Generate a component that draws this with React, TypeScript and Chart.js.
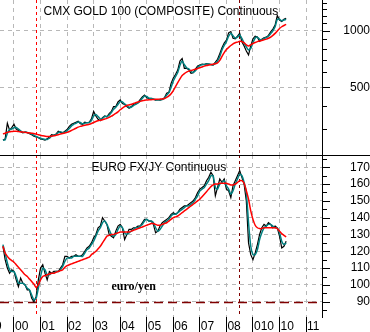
import React, { useEffect, useRef } from 'react';
import { Chart, registerables } from 'chart.js';

Chart.register(...registerables);

// ---- data: monthly samples, first sample = August 1999 ----
const SERIES_START_YEAR = 1999;
const SERIES_START_MONTH = 8;

// CMX GOLD 100 (COMPOSITE) Continuous – price, fast MA (teal), slow MA (red)
const goldPrice = [
  262, 265, 322, 296, 305,
  318, 300, 295, 290, 286, 290, 287, 283, 280, 275, 272, 270,
  266, 264, 262, 266, 272, 280, 278, 282, 292, 288, 286, 292,
  298, 310, 318, 322, 326, 330, 320, 318, 326, 324, 326, 340,
  372, 352, 338, 332, 345, 352, 348, 362, 372, 395, 395, 418,
  428, 410, 405, 395, 387, 395, 405, 410, 415, 430, 445, 455,
  440, 435, 437, 432, 428, 430, 428, 432, 440, 465, 470, 525,
  560, 585, 618, 690, 712, 630, 631, 620, 594, 598, 625, 650,
  657, 665, 660, 668, 665, 660, 657, 680, 705, 755, 812, 860,
  892, 975, 990, 912, 905, 935, 968, 874, 830, 780, 743, 830,
  905, 935, 925, 878, 900, 918, 925, 945, 985, 1020, 1072, 1205,
  1140, 1120, 1150, 1165,
];
const goldFast = [
  262, 263, 285, 298, 300,
  305, 306, 300, 293, 288, 288, 288, 285, 282, 278, 274, 271,
  268, 266, 264, 264, 268, 275, 278, 280, 287, 290, 288, 289,
  294, 302, 312, 318, 322, 327, 325, 320, 322, 324, 325, 333,
  352, 358, 350, 340, 342, 350, 350, 356, 367, 382, 392, 405,
  420, 418, 408, 400, 392, 392, 400, 406, 412, 422, 437, 450,
  447, 438, 436, 434, 430, 430, 429, 431, 437, 455, 468, 500,
  540, 570, 600, 655, 690, 660, 635, 627, 608, 600, 612, 638,
  652, 660, 662, 665, 666, 662, 660, 670, 690, 730, 790, 835,
  875, 935, 970, 940, 915, 925, 950, 910, 860, 820, 790, 805,
  865, 915, 925, 900, 895, 910, 920, 935, 965, 1000, 1050, 1150,
  1150, 1130, 1140, 1150,
];
const goldSlow = [
  283, 285, 288, 290, 291,
  292, 292, 291, 290, 289, 288, 287, 286, 285, 284, 282, 280,
  278, 276, 275, 274, 274, 275, 276, 278, 280, 282, 284, 286,
  288, 291, 295, 299, 303, 307, 310, 312, 314, 316, 318, 321,
  325, 329, 332, 334, 336, 339, 342, 346, 351, 357, 363, 370,
  380, 388, 395, 400, 403, 406, 410, 414, 418, 421, 424, 427,
  428, 429, 430, 431, 432, 432, 433, 434, 436, 442, 450, 462,
  480, 505, 530, 555, 578, 592, 603, 610, 615, 619, 624, 630,
  636, 642, 648, 653, 657, 661, 664, 667, 674, 695, 730, 765,
  795, 815, 835, 852, 863, 870, 878, 876, 862, 842, 830, 840,
  855, 866, 875, 882, 888, 895, 902, 912, 926, 945, 968, 998,
  1028, 1050, 1066, 1082,
];

// EURO FX/JY Continuous – price, fast MA (teal), slow MA (red)
const yenPrice = [
  123, 115, 110, 107, 109,
  108, 103, 99, 104, 101, 100, 97, 97, 92, 90, 93, 103,
  110, 112, 107, 103, 108, 107, 108, 108, 108, 110, 112, 117,
  117, 116, 117, 117, 118, 117, 117, 118, 120, 122, 123, 125,
  128, 130, 134, 135, 140, 138, 136, 130, 129, 128, 132, 135,
  136, 134, 127, 130, 133, 133, 134, 134, 135, 135, 137, 139,
  139, 138, 138, 136, 131, 132, 135, 137, 138, 139, 140, 142,
  143, 142, 143, 145, 146, 147, 147, 148, 149, 150, 152, 155,
  157, 158, 159, 162, 164, 167, 165, 153, 158, 163, 161, 163,
  157, 156, 152, 159, 162, 165, 168, 164, 160, 150, 125, 118,
  115, 119, 124, 130, 134, 136, 135, 137, 136, 134, 135, 134,
  129, 122, 123, 126,
];
const yenFast = [
  124, 119, 113, 109, 108,
  108, 105, 101, 101, 101, 100, 98, 97, 94, 91, 92, 98,
  105, 110, 109, 106, 106, 107, 107, 108, 108, 109, 111, 114,
  116, 116, 116, 117, 117, 117, 117, 117, 119, 121, 122, 124,
  126, 129, 132, 134, 137, 138, 136, 133, 130, 129, 130, 133,
  135, 134, 131, 130, 131, 132, 133, 134, 134, 135, 136, 138,
  139, 138, 138, 137, 134, 132, 133, 135, 137, 138, 139, 141,
  142, 142, 143, 144, 145, 146, 147, 147, 148, 149, 151, 153,
  156, 157, 158, 160, 162, 165, 165, 158, 157, 160, 161, 162,
  159, 157, 154, 156, 160, 163, 166, 165, 161, 155, 137, 123,
  118, 118, 121, 127, 131, 134, 135, 136, 136, 135, 134, 134,
  131, 126, 124, 125,
];
const yenSlow = [
  123, 119, 117, 115.5, 114.5,
  113.5, 112, 110.5, 109, 107.5, 106, 105, 103.5, 102, 100.5, 98.5, 100,
  103, 105, 105.5, 106, 106.5, 107, 107, 107.5, 108, 108.5, 109, 110.5,
  111.5, 112, 112.5, 113, 113.5, 114, 114.5, 115, 115.5, 116, 116.5, 118,
  119, 120, 121.5, 123, 125, 127, 129, 129.5, 130, 130, 130.5, 131,
  131.5, 131.5, 131.5, 131.5, 131.5, 132, 132.5, 133, 133.5, 134, 134.5, 135,
  135.5, 136, 136.5, 136.5, 136, 135.5, 135.5, 136, 136.5, 137, 138, 139,
  140, 140.5, 141, 142, 143, 144, 145, 146, 147, 148, 149, 150,
  151, 152.5, 154, 155.5, 157, 158.5, 159.5, 160, 160, 160.5, 160.5, 160.5,
  160.5, 160, 159.5, 159.5, 160, 161, 162, 162, 160.5, 156, 151, 144,
  139, 135.5, 134, 133.5, 133.5, 134, 134, 134, 134, 134, 134, 133.5,
  132, 130.5, 129.5, 128.5,
];

// axes
const yearTicks = [1999, 2000, 2001, 2002, 2003, 2004, 2005, 2006, 2007, 2008, 2009, 2010, 2011];
const yearLabels = ['99', '00', '01', '02', '03', '04', '05', '06', '07', '08', '010', '10', '11'];
const goldTicks = [300, 400, 500, 600, 700, 800, 900, 1000, 1100, 1200, 1300, 1400];
const goldLabeled = [500, 1000];
const yenTicks = [85, 90, 95, 100, 105, 110, 115, 120, 125, 130, 135, 140, 145, 150, 155, 160, 165, 170, 175];
const yenLabeled = [90, 100, 110, 120, 130, 140, 150, 160, 170];
const markerYears = [2000.83, 2008.49];
const yenFloor = 90;

const X_MIN = 1999.473;
const X_MAX = 2011.6;
const GOLD_MIN = 218.3;
const GOLD_MAX = 1457;
const YEN_MIN = 80.9;
const YEN_MAX = 177.3;

const GRID = '#b8b8b8';
const TEAL = '#008080';
const RED = '#ff0000';
const DARK_RED = '#800000';
const FONT = { family: '"Liberation Sans", Arial, sans-serif', size: 12 };
const TEXT_FONT = '12px "Liberation Sans", Arial, sans-serif';

const toPoints = (vals: number[]) =>
  vals.map((v, i) => ({ x: SERIES_START_YEAR + (SERIES_START_MONTH - 1 + i) / 12, y: v }));

const datasets = (price: number[], fast: number[], slow: number[]) => [
  { data: toPoints(slow), borderColor: RED, borderWidth: 1.5, pointRadius: 0, tension: 0.2 },
  { data: toPoints(fast), borderColor: TEAL, borderWidth: 1.5, pointRadius: 0, tension: 0.2 },
  { data: toPoints(price), borderColor: '#000', borderWidth: 1.2, pointRadius: 0, tension: 0 },
];

const zeroPad = (s: any) => {
  s.paddingTop = 0;
  s.paddingBottom = 0;
  s.paddingLeft = 0;
  s.paddingRight = 0;
};

function xScale(showLabels: boolean) {
  return {
    type: 'linear',
    min: X_MIN,
    max: X_MAX,
    bounds: 'data',
    afterBuildTicks: (s: any) => {
      s.ticks = yearTicks.map((v) => ({ value: v }));
    },
    afterFit: (s: any) => {
      s.height = showLabels ? 15 : 0;
      zeroPad(s);
    },
    grid: {
      display: true,
      color: GRID,
      lineWidth: 1,
      drawOnChartArea: true,
      drawTicks: showLabels,
      tickLength: 15,
      tickColor: '#000',
      tickWidth: 1,
      tickBorderDash: [],
    },
    border: { display: false, dash: [4, 4] },
    ticks: {
      display: showLabels,
      autoSkip: false,
      maxRotation: 0,
      minRotation: 0,
      align: 'start',
      labelOffset: 1,
      padding: -13,
      color: '#000',
      font: FONT,
      callback: (v: number) => {
        const i = yearTicks.indexOf(v);
        return i >= 0 ? yearLabels[i] : '';
      },
    },
  };
}

function yScale(type: string, min: number, max: number, ticks: number[], labeled: number[], pad: number) {
  return {
    type,
    position: 'right',
    min,
    max,
    bounds: 'data',
    afterBuildTicks: (s: any) => {
      s.ticks = ticks.map((v) => ({ value: v }));
    },
    afterFit: (s: any) => {
      s.width = 48;
      zeroPad(s);
    },
    grid: {
      color: (ctx: any) => (ctx.tick && labeled.includes(ctx.tick.value) ? GRID : 'rgba(0,0,0,0)'),
      lineWidth: 1,
      drawTicks: false,
    },
    border: { display: true, color: '#000', width: 1, dash: [4, 4] },
    ticks: {
      autoSkip: false,
      crossAlign: 'far',
      padding: pad,
      color: '#000',
      font: FONT,
      callback: (v: number) => (labeled.includes(v) ? String(v) : ''),
    },
  };
}

function overlay(kind: 'top' | 'bottom', ticks: number[], labeled: number[]) {
  return {
    id: 'overlay-' + kind,
    beforeDatasetsDraw(chart: any) {
      const { ctx, chartArea: a, scales } = chart;
      ctx.save();
      ctx.lineWidth = 1;
      ctx.setLineDash([3, 3]);
      markerYears.forEach((yr, i) => {
        const px = Math.round(scales.x.getPixelForValue(yr)) + 0.5;
        ctx.strokeStyle = i === 0 ? RED : DARK_RED;
        ctx.beginPath();
        ctx.moveTo(px, a.top);
        ctx.lineTo(px, a.bottom);
        ctx.stroke();
      });
      if (kind === 'bottom') {
        const py = Math.round(scales.y.getPixelForValue(yenFloor)) + 0.5;
        ctx.strokeStyle = DARK_RED;
        ctx.lineWidth = 1.5;
        ctx.setLineDash([9, 5]);
        ctx.beginPath();
        ctx.moveTo(a.left, py);
        ctx.lineTo(a.right, py);
        ctx.stroke();
      }
      ctx.restore();
    },
    afterDraw(chart: any) {
      const { ctx, chartArea: a, scales, width } = chart;
      ctx.save();
      ctx.setLineDash([]);
      ctx.strokeStyle = '#000';
      ctx.lineWidth = 1;
      ticks.forEach((v) => {
        const py = Math.round(scales.y.getPixelForValue(v)) + 0.5;
        const len = labeled.includes(v) ? 8 : 5;
        ctx.beginPath();
        ctx.moveTo(a.right, py);
        ctx.lineTo(a.right + len, py);
        ctx.stroke();
      });
      ctx.fillStyle = '#000';
      ctx.textBaseline = 'alphabetic';
      ctx.textAlign = 'left';
      ctx.font = TEXT_FONT;
      if (kind === 'top') {
        ctx.fillText('CMX GOLD 100 (COMPOSITE) Continuous', 43.5, 15);
      } else {
        ctx.beginPath();
        ctx.moveTo(0, 0.5);
        ctx.lineTo(width, 0.5);
        ctx.stroke();
        ctx.fillText('EURO FX/JY Continuous', 91.5, 15.5);
        ctx.font = 'bold 12px "Liberation Serif", "Times New Roman", serif';
        ctx.fillText('euro/yen', 111.5, 135);
      }
      ctx.restore();
    },
  };
}

function config(kind: 'top' | 'bottom'): any {
  const top = kind === 'top';
  return {
    type: 'line',
    data: {
      datasets: top ? datasets(goldPrice, goldFast, goldSlow) : datasets(yenPrice, yenFast, yenSlow),
    },
    options: {
      responsive: false,
      maintainAspectRatio: false,
      animation: false,
      devicePixelRatio: 1,
      layout: { padding: 0 },
      plugins: { legend: { display: false }, tooltip: { enabled: false }, title: { display: false } },
      elements: { point: { radius: 0 } },
      scales: {
        x: xScale(!top),
        y: top
          ? yScale('logarithmic', GOLD_MIN, GOLD_MAX, goldTicks, goldLabeled, 17)
          : yScale('linear', YEN_MIN, YEN_MAX, yenTicks, yenLabeled, 24),
      },
    },
    plugins: [top ? overlay('top', goldTicks, goldLabeled) : overlay('bottom', yenTicks, yenLabeled)],
  };
}

export default function App() {
  const topRef = useRef<HTMLCanvasElement>(null);
  const botRef = useRef<HTMLCanvasElement>(null);

  useEffect(() => {
    document.body.style.margin = '0';
    const c1 = new Chart(topRef.current as HTMLCanvasElement, config('top'));
    const c2 = new Chart(botRef.current as HTMLCanvasElement, config('bottom'));
    return () => {
      c1.destroy();
      c2.destroy();
    };
  }, []);

  return (
    <div style={{ position: 'fixed', left: 0, top: 0, width: 370, height: 332, background: '#fff', overflow: 'hidden' }}>
      <canvas ref={topRef} width={370} height={155} style={{ position: 'absolute', left: 0, top: 0 }} />
      <canvas ref={botRef} width={370} height={177} style={{ position: 'absolute', left: 0, top: 155 }} />
    </div>
  );
}
